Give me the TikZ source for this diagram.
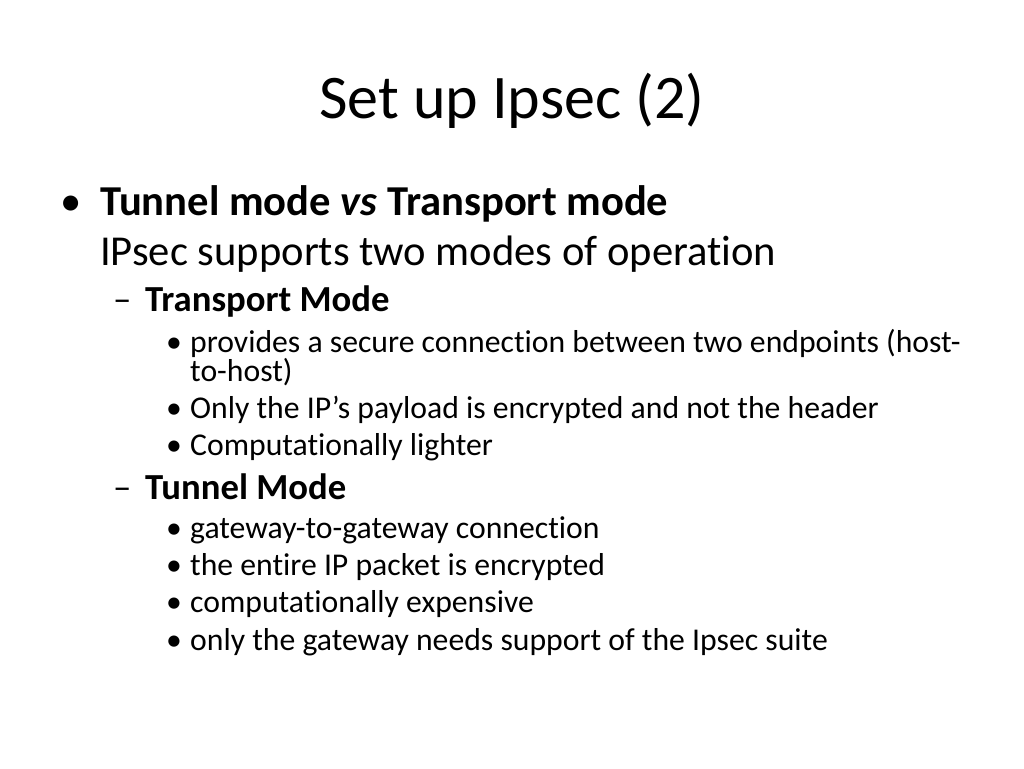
\documentclass[tikz,border=0pt]{standalone}
\usepackage{fontspec}
\setmainfont{Carlito}[Ligatures=NoCommon]
\begin{document}
\begin{tikzpicture}[x=1pt,y=-1pt,
  t/.style={anchor=base west,inner sep=0pt},
  l1/.style={t,font=\fontsize{42.6}{48}\selectfont},
  l2/.style={t,font=\fontsize{36.7}{42}\selectfont},
  l3/.style={t,font=\fontsize{31.7}{36}\selectfont}]
\useasboundingbox (0,0) rectangle (1024,768);
\node[anchor=base,inner sep=0pt,font=\fontsize{62}{70}\selectfont] (title) at (512,118) {Set up Ipsec (2)};
\node[l1] (b1) at (60,215) {\textbullet};
\node[l1] (a) at (100,215) {\textbf{Tunnel mode \textit{vs} Transport mode}};
\node[l1] (b) at (100,265) {IPsec supports two modes of operation};
\node[l2] (d1) at (113,311) {–};
\node[l2] (c) at (145,311) {\textbf{Transport Mode}};
\node[l3] (e1) at (166,352) {\textbullet};
\node[l3] (e) at (190,352) {provides a secure connection between two endpoints (host-};
\node[l3] (e2) at (190,381) {to-host)};
\node[l3] (f1) at (166,418) {\textbullet};
\node[l3] (f) at (190,418) {Only the IP’s payload is encrypted and not the header};
\node[l3] (g1) at (166,455) {\textbullet};
\node[l3] (g) at (190,455) {Computationally lighter};
\node[l2] (d2) at (113,499) {–};
\node[l2] (h) at (145,499) {\textbf{Tunnel Mode}};
\node[l3] (i1) at (166,538) {\textbullet};
\node[l3] (i) at (190,538) {gateway-to-gateway connection};
\node[l3] (j1) at (166,575) {\textbullet};
\node[l3] (j) at (190,575) {the entire IP packet is encrypted};
\node[l3] (k1) at (166,612) {\textbullet};
\node[l3] (k) at (190,612) {computationally expensive};
\node[l3] (m1) at (166,650) {\textbullet};
\node[l3] (m) at (190,650) {only the gateway needs support of the Ipsec suite};
\end{tikzpicture}
\end{document}
